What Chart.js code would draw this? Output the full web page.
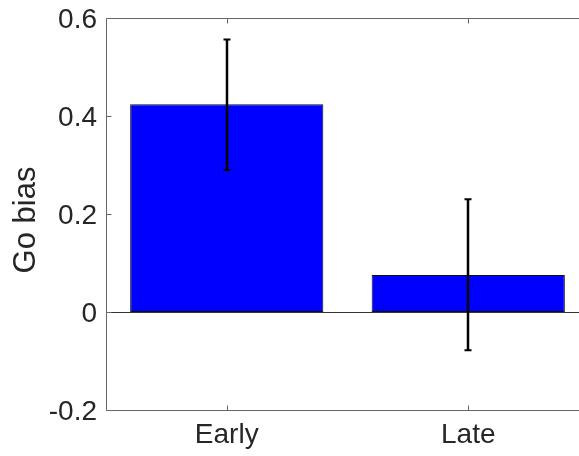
<!DOCTYPE html>
<html>
<head>
<meta charset="utf-8">
<script src="https://cdn.jsdelivr.net/npm/chart.js@4"></script>
<style>
  html, body { margin: 0; padding: 0; background: #fff; overflow: hidden; width: 579px; height: 456px; }
  #wrap { position: absolute; left: 0; top: 0; width: 600px; height: 456px; }
  canvas { display: block; }
</style>
</head>
<body>
<div id="wrap"><canvas id="c" width="600" height="456" style="width:600px;height:456px"></canvas></div>
<script>
const categories = ['Early', 'Late'];
const goBias = [0.424, 0.0755];
const errLow = [0.290, -0.078];
const errHigh = [0.556, 0.230];
const yTicks = [-0.2, 0, 0.2, 0.4, 0.6];
const yLabel = 'Go bias';

const FONT = 'Helvetica, "Liberation Sans", Arial, sans-serif';
const AXIS_COLOR = '#666666';
const TEXT_COLOR = '#262626';

const boxPlugin = {
  id: 'matlabBox',
  afterDatasetsDraw(chart) {
    const ctx = chart.ctx;
    const a = chart.chartArea;
    const x = chart.scales.x, y = chart.scales.y;
    ctx.save();
    // zero baseline
    ctx.strokeStyle = '#333333';
    ctx.lineWidth = 1;
    const y0 = Math.round(y.getPixelForValue(0)) + 0.5;
    ctx.beginPath();
    ctx.moveTo(a.left, y0); ctx.lineTo(a.right, y0);
    ctx.stroke();
    // error bars
    const meta = chart.getDatasetMeta(0);
    ctx.strokeStyle = '#000000';
    meta.data.forEach((bar, i) => {
      const cx = Math.round(bar.x);
      const yl = y.getPixelForValue(errLow[i]);
      const yh = y.getPixelForValue(errHigh[i]);
      ctx.lineWidth = 2.5;
      ctx.beginPath();
      ctx.moveTo(cx, yl); ctx.lineTo(cx, yh);
      ctx.stroke();
      ctx.lineWidth = 2;
      ctx.beginPath();
      ctx.moveTo(cx - 3.5, yl); ctx.lineTo(cx + 3.5, yl);
      ctx.moveTo(cx - 3.5, yh); ctx.lineTo(cx + 3.5, yh);
      ctx.stroke();
    });
    // axes box (right side lies outside the visible window)
    ctx.strokeStyle = AXIS_COLOR;
    ctx.lineWidth = 1;
    const L = Math.round(a.left) + 0.5, R = a.right;
    const T = Math.round(a.top) + 0.5, B = Math.round(a.bottom) + 0.5;
    ctx.beginPath();
    ctx.moveTo(R, T); ctx.lineTo(L, T); ctx.lineTo(L, B); ctx.lineTo(R, B);
    ctx.stroke();
    // inward ticks
    const tl = 5;
    ctx.beginPath();
    y.ticks.forEach(t => {
      const py = Math.round(y.getPixelForValue(t.value)) + 0.5;
      ctx.moveTo(L, py); ctx.lineTo(L + tl, py);
    });
    categories.forEach((c, i) => {
      const px = Math.round(x.getPixelForValue(i)) + 0.5;
      ctx.moveTo(px, B); ctx.lineTo(px, B - tl);
      ctx.moveTo(px, T); ctx.lineTo(px, T + tl);
    });
    ctx.stroke();
    // y-axis label
    ctx.fillStyle = TEXT_COLOR;
    ctx.font = '31px ' + FONT;
    ctx.textAlign = 'center';
    ctx.textBaseline = 'middle';
    ctx.translate(26, (a.top + a.bottom) / 2 + 6);
    ctx.rotate(-Math.PI / 2);
    ctx.fillText(yLabel, 0, 0);
    ctx.restore();
  }
};

new Chart(document.getElementById('c'), {
  type: 'bar',
  data: {
    labels: categories,
    datasets: [{
      data: goBias,
      backgroundColor: '#0000ff',
      borderColor: '#111111',
      borderWidth: 1,
      borderSkipped: false,
      barPercentage: 1.0,
      categoryPercentage: 0.8
    }]
  },
  options: {
    responsive: false,
    animation: false,
    devicePixelRatio: 1,
    layout: { padding: { left: 0, right: 11, top: 18, bottom: 0 } },
    plugins: { legend: { display: false }, tooltip: { enabled: false } },
    scales: {
      x: {
        offset: true,
        grid: { display: false, drawTicks: false },
        border: { display: false },
        ticks: { color: TEXT_COLOR, font: { family: FONT, size: 28 }, padding: 8, maxRotation: 0, autoSkip: false },
        afterFit(s) { s.height = 46; s.paddingLeft = 0; s.paddingRight = 0; }
      },
      y: {
        min: -0.2, max: 0.6,
        grid: { display: false, drawTicks: false },
        border: { display: false },
        afterBuildTicks(s) { s.ticks = yTicks.map(v => ({ value: v })); },
        ticks: {
          color: TEXT_COLOR, font: { family: FONT, size: 28 }, padding: 9, labelOffset: 2,
          callback: v => String(Math.round(v * 10) / 10)
        },
        afterFit(s) { s.width = 106; s.paddingTop = 0; s.paddingBottom = 0; }
      }
    }
  },
  plugins: [boxPlugin]
});
</script>
</body>
</html>
